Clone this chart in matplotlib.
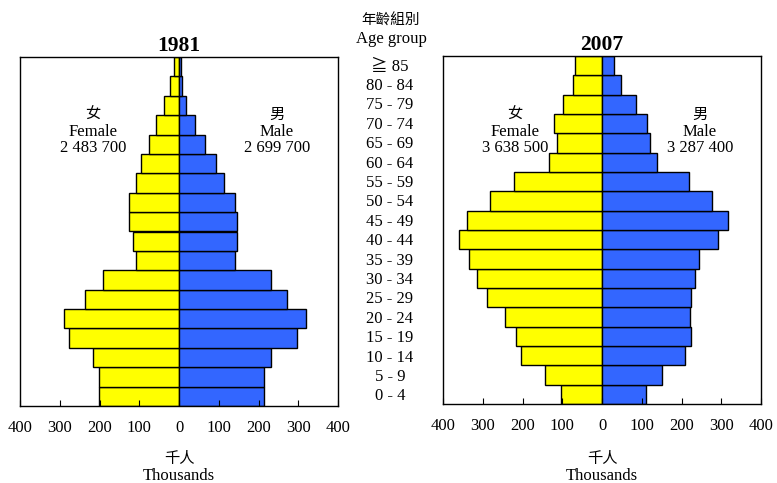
import numpy as np
import matplotlib
matplotlib.use("Agg")
import matplotlib.pyplot as plt
from matplotlib.ticker import FuncFormatter
from matplotlib.transforms import blended_transform_factory

plt.rcParams['font.family'] = ['Liberation Serif', 'Noto Sans CJK TC']

# age groups, youngest first
ages = ['0 - 4', '5 - 9', '10 - 14', '15 - 19', '20 - 24', '25 - 29', '30 - 34',
        '35 - 39', '40 - 44', '45 - 49', '50 - 54', '55 - 59', '60 - 64',
        '65 - 69', '70 - 74', '75 - 79', '80 - 84', '\u2267 85']

# population in thousands
female_1981 = [202, 202, 217, 277, 290, 236, 190, 108, 115, 126, 126, 109, 95, 76, 58, 38, 23, 13]
male_1981 = [214, 214, 231, 297, 319, 272, 231, 142, 147, 147, 141, 113, 94, 66, 40, 17, 8, 5]
female_2007 = [104, 144, 203, 217, 245, 289, 315, 334, 360, 340, 282, 221, 134, 113, 121, 98, 74, 68]
male_2007 = [111, 152, 209, 225, 221, 225, 235, 244, 293, 318, 276, 220, 139, 121, 114, 86, 47, 30]

years = ['1981', '2007']
female_totals = ['2 483 700', '3 638 500']
male_totals = ['2 699 700', '3 287 400']
ticks = [-400, -300, -200, -100, 0, 100, 200, 300, 400]

W, H = 777, 483
fig = plt.figure(figsize=(W / 100, H / 100), dpi=100)

def fx(x):
    return x / W

def fy(y):
    return 1 - y / H

ax1 = fig.add_axes([fx(20), fy(406), 318 / W, 349 / H])
ax2 = fig.add_axes([fx(443), fy(404), 318 / W, 348 / H])

yellow = '#FFFF00'
blue = '#3366FF'
y = np.arange(len(ages))

for ax, fem, mal, year in [(ax1, female_1981, male_1981, years[0]),
                           (ax2, female_2007, male_2007, years[1])]:
    ax.barh(y, -np.array(fem), height=1.0, color=yellow, edgecolor='black', linewidth=1)
    ax.barh(y, mal, height=1.0, color=blue, edgecolor='black', linewidth=1)
    ax.set_xlim(-400, 400)
    ax.set_ylim(-0.5, len(ages) - 0.5)
    ax.set_yticks([])
    ax.set_xticks(ticks)
    ax.xaxis.set_major_formatter(FuncFormatter(lambda v, p: f'{abs(int(v))}'))
    ax.tick_params(axis='x', direction='in', length=4, pad=10, labelsize=12)
    for s in ax.spines.values():
        s.set_linewidth(1)
    ax.set_title(year, fontsize=15.5, fontweight='bold', pad=4)

# age group labels between the two pyramids
tr = blended_transform_factory(fig.transFigure, ax1.transData)
for i, a in enumerate(ages):
    ax1.text(fx(390), i, a, transform=tr, ha='center', va='center', fontsize=12)

fig.text(fx(391), fy(21), '年齡組別', ha='center', va='center', fontsize=10.5)
fig.text(fx(391), fy(39), 'Age group', ha='center', va='center', fontsize=12)

# female / male totals
for cx_f, cx_m, ft, mt in [(93, 277, female_totals[0], male_totals[0]),
                           (515, 700, female_totals[1], male_totals[1])]:
    fig.text(fx(cx_f), fy(115), '女', ha='center', va='center', fontsize=11)
    fig.text(fx(cx_f), fy(132), 'Female', ha='center', va='center', fontsize=12)
    fig.text(fx(cx_f), fy(148), ft, ha='center', va='center', fontsize=12)
    fig.text(fx(cx_m), fy(115), '男', ha='center', va='center', fontsize=11)
    fig.text(fx(cx_m), fy(132), 'Male', ha='center', va='center', fontsize=12)
    fig.text(fx(cx_m), fy(148), mt, ha='center', va='center', fontsize=12)

# x axis unit labels
for cx in [179, 602]:
    fig.text(fx(cx), fy(459), '千人', ha='center', va='center', fontsize=11)
    fig.text(fx(cx), fy(476), 'Thousands', ha='center', va='center', fontsize=12)

fig.savefig('out.png', dpi=100)
